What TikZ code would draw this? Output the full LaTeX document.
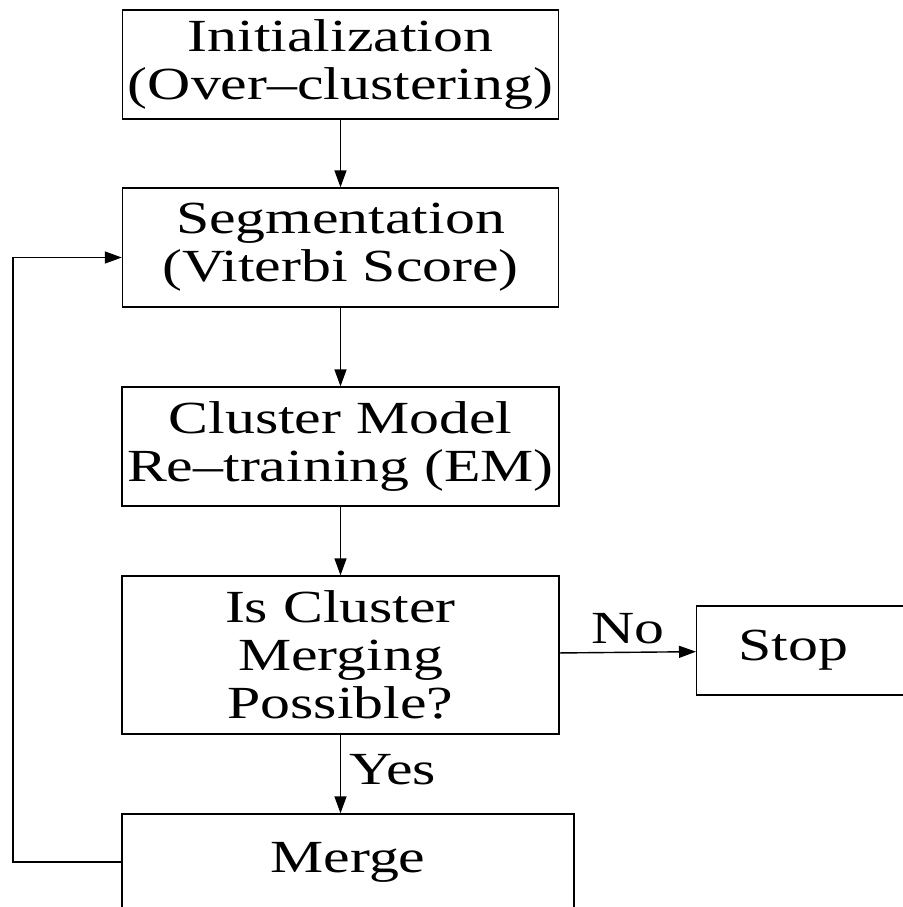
\documentclass[tikz,border=0pt]{standalone}
\usepackage{fontspec}
\setmainfont[FakeStretch=1.3]{Liberation Serif}
\usetikzlibrary{arrows.meta}
\begin{document}
\begin{tikzpicture}
[x=0.5pt,y=-0.5pt,
  boxdecorate/.style={shape=rectangle,draw,line width=0.7pt,align=center,inner sep=0pt,
    font=\fontsize{23}{24}\selectfont},
  linedecorate/.style={-{Triangle[length=8.5pt,width=6pt]},line width=0.7pt},
  labeldecorate/.style={inner sep=4pt,font=\fontsize{23}{24}\selectfont}]
\useasboundingbox (0,0) rectangle (902,907);
%% nodes or boxes
\node (init) at (340.5,64.5) [boxdecorate,minimum width=218pt,minimum height=54.5pt]
  {Initialization\\(Over--clustering)};
\node (seg) at (340.5,247.5) [boxdecorate,minimum width=218pt,minimum height=59.5pt]
  {Segmentation\\(Viterbi Score)};
\node (clus) at (340.5,446.5) [boxdecorate,minimum width=218.5pt,minimum height=59.5pt]
  {Cluster Model\\Re--training (EM)};
\node (ask) at (340.5,655) [boxdecorate,minimum width=218.5pt,minimum height=79pt]
  {Is Cluster\\Merging\\Possible?};
\node (merge) at (348,862) [boxdecorate,minimum width=226pt,minimum height=48pt]
  {Merge};
\node (stop) at (696,650.5) [boxdecorate,anchor=west,align=left,inner xsep=21pt,
  text width=83pt,minimum height=44.5pt] {Stop};
%% corner of the loop back
\coordinate (loopleft) at (13,862);
%% edges or lines
\draw[linedecorate] (init) -- (seg);
\draw[linedecorate] (seg) -- (clus);
\draw[linedecorate] (clus) -- (ask);
\draw[linedecorate] (ask) -- node[labeldecorate,right,pos=0.45] {Yes} (ask |- merge.north);
\draw[linedecorate] (ask) -- node[labeldecorate,above] {No} (stop);
\draw[linedecorate] (merge.west) -- (loopleft) |- ([yshift=-5pt]seg.west);
\end{tikzpicture}
\end{document}
